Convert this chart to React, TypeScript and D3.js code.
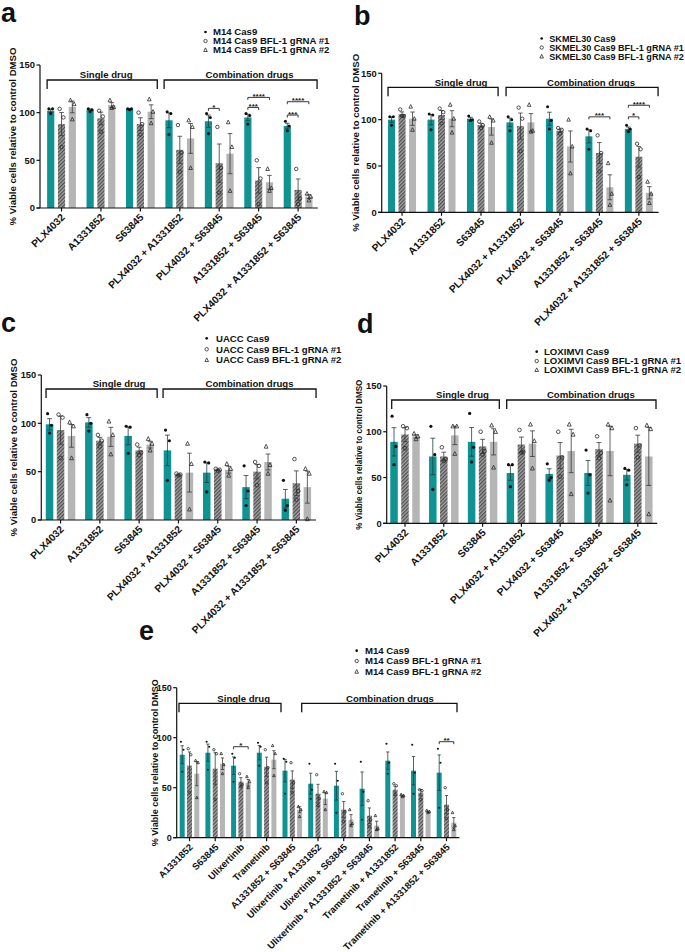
import React from 'react';
import * as d3 from 'd3';

// ---------- categories ----------
const catsABCD = [
  'PLX4032', 'A1331852', 'S63845', 'PLX4032 + A1331852', 'PLX4032 + S63845',
  'A1331852 + S63845', 'PLX4032 + A1331852 + S63845',
];
const catsE = [
  'A1331852', 'S63845', 'Ulixertinib', 'Trametinib', 'A1331852 + S63845',
  'Ulixertinib + A1331852', 'Ulixertinib + S63845', 'Ulixertinib + A1331852 + S63845',
  'Trametinib + A1331852', 'Trametinib + S63845', 'Trametinib + A1331852 + S63845',
];
const yTicks = [0, 50, 100, 150];

// ---------- panel a (M14) ----------
const aCas9 = [102, 103, 104, 92, 91, 95, 86];
const aG1 = [88, 94, 88, 61, 47, 29, 19];
const aG2 = [106, 108, 101, 73, 57, 27, 12];
const aCas9Pts = [[104, 104, 99], [104, 103, 101], [104, 104, 103], [101, 99, 77], [99, 95, 78], [99, 97, 88], [91, 86, 81]];
const aG1Pts = [[104, 95, 64], [102, 96, 80], [100, 88, 77], [87, 58, 38], [85, 42, 16], [50, 31, 4], [41, 10, 4]];
const aG2Pts = [[113, 109, 93], [113, 106, 105], [114, 101, 89], [92, 85, 42], [90, 64, 18], [41, 21, 18], [15, 12, 8]];
const aSig = [
  { g: 4, to: 1, v: 104.5, label: '*' },
  { g: 5, to: 1, v: 105.5, label: '***' },
  { g: 5, to: 2, v: 116, label: '****' },
  { g: 6, to: 1, v: 97.5, label: '***' },
  { g: 6, to: 2, v: 111.5, label: '****' },
];
const aLegend = ['M14 Cas9', 'M14 Cas9 BFL-1 gRNA #1', 'M14 Cas9 BFL-1 gRNA #2'];

// ---------- panel b (SKMEL30) ----------
const bCas9 = [100, 100, 101, 97, 101, 82, 90];
const bG1 = [106, 105, 94, 93, 88, 64, 60];
const bG2 = [101, 101, 92, 97, 71, 27, 21];
const bCas9Pts = [[103, 103, 94], [106, 105, 89], [104, 100, 99], [103, 100, 88], [114, 99, 90], [90, 88, 68], [94, 90, 87]];
const bG1Pts = [[111, 104, 104], [112, 108, 96], [98, 94, 91], [113, 101, 66], [91, 89, 85], [83, 64, 44], [74, 68, 38]];
const bG2Pts = [[114, 101, 89], [116, 101, 86], [103, 99, 75], [116, 88, 87], [100, 71, 42], [53, 20, 8], [33, 20, 10]];
const bSig = [
  { g: 5, to: 2, v: 103, label: '***' },
  { g: 6, to: 1, v: 103, label: '*' },
  { g: 6, to: 2, v: 115.5, label: '****' },
];
const bLegend = ['SKMEL30 Cas9', 'SKMEL30 Cas9 BFL-1 gRNA #1', 'SKMEL30 Cas9 BFL-1 gRNA #2'];

// ---------- panel c (UACC) ----------
const cCas9 = [99, 101, 87, 72, 49, 34, 22];
const cG1 = [93, 82, 72, 47, 52, 50, 38];
const cG2 = [87, 86, 78, 49, 52, 60, 34];
const cCas9Pts = [[110, 98, 90], [109, 100, 92], [97, 96, 69], [93, 82, 41], [60, 59, 29], [56, 30, 15], [41, 15, 10]];
const cG1Pts = [[109, 106, 64], [88, 82, 76], [78, 70, 67], [48, 47, 46], [53, 52, 51], [60, 56, 36], [63, 30, 21]];
const cG2Pts = [[101, 97, 64], [102, 88, 68], [84, 79, 72], [79, 58, 11], [58, 53, 46], [76, 57, 48], [53, 48, 1]];
const cSig: any[] = [];
const cLegend = ['UACC Cas9', 'UACC Cas9 BFL-1 gRNA #1', 'UACC Cas9 BFL-1 gRNA #2'];

// ---------- panel d (LOXIMVI) ----------
const dCas9 = [89, 73, 89, 55, 54, 55, 53];
const dG1 = [97, 73, 84, 86, 74, 81, 87];
const dG2 = [95, 96, 89, 87, 79, 79, 73];
const dCas9Pts = [[117, 84, 64], [106, 75, 37], [120, 83, 67], [64, 64, 40], [65, 50, 47], [80, 53, 33], [60, 58, 42]];
const dG1Pts = [[106, 104, 82], [83, 70, 68], [100, 79, 75], [102, 78, 77], [100, 72, 51], [95, 77, 71], [104, 85, 72]];
const dG2Pts = [[98, 95, 92], [106, 106, 76], [107, 100, 61], [108, 90, 60], [108, 97, 32], [108, 104, 25], [107, 103, 10]];
const dSig: any[] = [];
const dLegend = ['LOXIMVI Cas9', 'LOXIMVI Cas9 BFL-1 gRNA #1', 'LOXIMVI Cas9 BFL-1 gRNA #2'];

// ---------- panel e (M14, MAPK inhibitors) ----------
const eCas9 = [83, 85, 72, 85, 67, 54, 52, 49, 77, 67, 65];
const eG1 = [72, 69, 56, 71, 58, 44, 28, 22, 48, 45, 33];
const eG2 = [64, 74, 55, 78, 28, 39, 18, 12, 42, 26, 15];
const eCas9Pts = [[96, 88, 66], [96, 91, 68], [84, 80, 56], [95, 91, 72], [79, 76, 44], [74, 48, 39], [74, 57, 25], [76, 46, 18], [94, 75, 64], [93, 65, 44], [89, 75, 30]];
const eG1Pts = [[89, 83, 45], [88, 84, 38], [64, 53, 51], [88, 70, 55], [75, 55, 45], [63, 39, 32], [44, 26, 16], [37, 18, 11], [54, 52, 43], [48, 47, 38], [50, 28, 19]];
const eG2Pts = [[77, 75, 40], [84, 73, 64], [61, 56, 50], [92, 84, 62], [31, 28, 21], [46, 45, 28], [28, 14, 12], [22, 9, 8], [43, 42, 41], [27, 26, 25], [25, 12, 8]];
const eSig = [
  { g: 2, to: 2, v: 91, label: '*' },
  { g: 10, to: 2, v: 96, label: '**' },
];
const eLegend = ['M14 Cas9', 'M14 Cas9 BFL-1 gRNA #1', 'M14 Cas9 BFL-1 gRNA #2'];

// ---------- styling ----------
const TEAL = '#0f9393';
const HATCH_FILL = 'url(#hatch)';
const LIGHT = '#b5b5b5';
const FONT = "'Liberation Sans', Arial, sans-serif";

type Bracket = { from: number; dxFrom: number; to: number; dxTo: number; label: string; tdx: number };
type Cfg = {
  letter: string; lx: number; ly: number;
  cats: string[];
  series: number[][];
  pts: number[][][];
  sig: { g: number; to: number; v: number; label: string }[];
  legend: string[];
  axisX: number; xRange: [number, number]; y0: number; y150: number;
  bw: number; off: number;
  legMx: number; legTx: number; legYs: number[]; legSize: number;
  brackets: Bracket[]; bracketDy: number;
  titleX: number; titleSize: number; titleLen?: number;
  xLabelSize: number; tickSize: number;
};

function Marker({ kind, x, y, s = 1 }: { kind: number; x: number; y: number; s?: number }) {
  if (kind === 0) return <circle cx={x} cy={y} r={1.5 * s} fill="#111" />;
  if (kind === 1) return <circle cx={x} cy={y} r={1.7 * s} fill="none" stroke="#2a2a2a" strokeWidth={0.8} />;
  const h = 3.6 * s;
  const p = `M${x},${y - h / 2 - 0.3} L${x + h / 2},${y + h / 2 - 0.3} L${x - h / 2},${y + h / 2 - 0.3} Z`;
  return <path d={p} fill="none" stroke="#2a2a2a" strokeWidth={0.8} />;
}

function Panel({ c }: { c: Cfg }) {
  const x = d3.scaleBand<string>().domain(c.cats).range(c.xRange).padding(0);
  const y = d3.scaleLinear().domain([0, 150]).range([c.y0, c.y150]);
  const cx = (i: number) => (x(c.cats[i]) as number) + x.bandwidth() / 2;
  const fills = [TEAL, HATCH_FILL, LIGHT];
  const offs = [-c.off, 0, c.off];
  const jit = [-1.8, 1.8, 0];
  const brTop = c.y150 + c.bracketDy;
  const xEnd = c.xRange[1];
  const midY = (c.y0 + c.y150) / 2;
  return (
    <g fontFamily={FONT} fontWeight="bold">
      <text x={c.lx} y={c.ly} fontSize={27} fill="#111">{c.letter}</text>
      {/* legend */}
      {c.legend.map((t, k) => (
        <g key={'lg' + k}>
          <Marker kind={k} x={c.legMx} y={c.legYs[k]} s={k === 0 ? 0.9 : 1} />
          <text x={c.legTx} y={c.legYs[k]} dy="0.36em" fontSize={c.legSize} fill="#111">{t}</text>
        </g>
      ))}
      {/* brackets */}
      {c.brackets.map((b, k) => {
        const x1 = cx(b.from) + b.dxFrom;
        const x2 = cx(b.to) + b.dxTo;
        return (
          <g key={'br' + k}>
            <path d={`M${x1},${brTop + 9} V${brTop} H${x2} V${brTop + 9}`} fill="none" stroke="#111" strokeWidth={1.3} />
            <text x={(x1 + x2) / 2 + b.tdx} y={brTop - 1.6} textAnchor="middle" fontSize={9.6} fill="#111">{b.label}</text>
          </g>
        );
      })}
      {/* bars */}
      {c.series.map((vals, s) => vals.map((v, i) => {
        const bx = cx(i) + offs[s] - c.bw / 2;
        return <rect key={`b${s}-${i}`} x={bx} y={y(v)} width={c.bw} height={c.y0 - y(v)} fill={fills[s]} />;
      }))}
      {/* error bars (mean ± SEM of the plotted points) */}
      {c.series.map((vals, s) => vals.map((v, i) => {
        const p = c.pts[s][i];
        const sem = (d3.deviation(p) as number) / Math.sqrt(p.length);
        const ex = cx(i) + offs[s];
        const cw = c.bw * 0.32;
        const col = s === 0 ? '#1f3f3f' : '#3a3a3a';
        return (
          <path key={`e${s}-${i}`} d={`M${ex},${y(v + sem)} V${y(Math.max(0, v - sem))} M${ex - cw},${y(v + sem)} H${ex + cw} M${ex - cw},${y(Math.max(0, v - sem))} H${ex + cw}`}
            stroke={col} strokeWidth={0.8} fill="none" />
        );
      }))}
      {/* points */}
      {c.pts.map((grp, s) => grp.map((p, i) => p.map((v, j) => (
        <Marker key={`p${s}-${i}-${j}`} kind={s} x={cx(i) + offs[s] + jit[j] * (c.bw / 7)} y={y(v)} s={c.bw / 7} />
      ))))}
      {/* significance */}
      {c.sig.map((sg, k) => {
        const x1 = cx(sg.g) - c.off;
        const x2 = cx(sg.g) + offs[sg.to];
        const yy = y(sg.v);
        return (
          <g key={'sg' + k}>
            <path d={`M${x1},${yy + 2.5} V${yy} H${x2} V${yy + 2.5}`} fill="none" stroke="#222" strokeWidth={0.9} />
            <text x={(x1 + x2) / 2} y={yy + 1.5} textAnchor="middle" fontSize={8} fill="#222">{sg.label}</text>
          </g>
        );
      })}
      {/* axes */}
      <line x1={c.axisX} x2={c.axisX} y1={c.y0} y2={c.y150} stroke="#111" strokeWidth={1.2} />
      <line x1={c.axisX - 3.5} x2={xEnd} y1={c.y0} y2={c.y0} stroke="#111" strokeWidth={1.2} />
      {yTicks.map((t) => (
        <g key={'yt' + t}>
          <line x1={c.axisX - 3.5} x2={c.axisX} y1={y(t)} y2={y(t)} stroke="#111" strokeWidth={1.2} />
          <text x={c.axisX - 5} y={y(t)} dy="0.36em" textAnchor="end" fontSize={c.tickSize} fill="#111">{t}</text>
        </g>
      ))}
      {c.cats.map((cat, i) => (
        <g key={'xt' + i}>
          <line x1={cx(i)} x2={cx(i)} y1={c.y0} y2={c.y0 + 3.5} stroke="#111" strokeWidth={1.2} />
          <text transform={`translate(${cx(i) + 4},${c.y0 + 10}) rotate(-45)`} textAnchor="end" fontSize={c.xLabelSize} fill="#111">{cat}</text>
        </g>
      ))}
      <text transform={`translate(${c.titleX},${midY}) rotate(-90)`} textAnchor="middle" fontSize={c.titleSize} fill="#111"
        {...(c.titleLen ? { textLength: c.titleLen, lengthAdjust: 'spacingAndGlyphs' } : {})}>
        % Viable cells relative to control DMSO
      </text>
    </g>
  );
}

const panels: Cfg[] = [
  {
    letter: 'a', lx: 1, ly: 21.5, cats: catsABCD,
    series: [aCas9, aG1, aG2], pts: [aCas9Pts, aG1Pts, aG2Pts], sig: aSig, legend: aLegend,
    axisX: 40, xRange: [41.8, 317.8], y0: 208, y150: 65, bw: 7.2, off: 10.8,
    legMx: 205.5, legTx: 213, legYs: [32, 41, 50], legSize: 9.6,
    brackets: [
      { from: 0, dxFrom: -14.4, to: 2, dxTo: 16.9, label: 'Single drug', tdx: 4 },
      { from: 3, dxFrom: -15.7, to: 6, dxTo: 19, label: 'Combination drugs', tdx: 9 },
    ], bracketDy: 15,
    titleX: 16, titleSize: 9.6, xLabelSize: 10.2, tickSize: 9.4,
  },
  {
    letter: 'b', lx: 354, ly: 25, cats: catsABCD,
    series: [bCas9, bG1, bG2], pts: [bCas9Pts, bG1Pts, bG2Pts], sig: bSig, legend: bLegend,
    axisX: 381.7, xRange: [382.3, 658.6], y0: 212.3, y150: 73.3, bw: 7, off: 10.5,
    legMx: 541.7, legTx: 549.3, legYs: [38.5, 47.5, 56.5], legSize: 9.1,
    brackets: [
      { from: 0, dxFrom: -14, to: 2, dxTo: 17.1, label: 'Single drug', tdx: 18 },
      { from: 3, dxFrom: -14.4, to: 6, dxTo: 19.2, label: 'Combination drugs', tdx: 9 },
    ], bracketDy: 14,
    titleX: 359, titleSize: 9.6, xLabelSize: 10.2, tickSize: 9.4,
  },
  {
    letter: 'c', lx: 1, ly: 332, cats: catsABCD,
    series: [cCas9, cG1, cG2], pts: [cCas9Pts, cG1Pts, cG2Pts], sig: cSig, legend: cLegend,
    axisX: 41.3, xRange: [40.9, 316], y0: 520, y150: 375, bw: 7.5, off: 11,
    legMx: 206.7, legTx: 216, legYs: [338.3, 349.3, 360], legSize: 9.6,
    brackets: [
      { from: 0, dxFrom: -14.5, to: 2, dxTo: 18, label: 'Single drug', tdx: 17.5 },
      { from: 3, dxFrom: -15.4, to: 6, dxTo: 19.7, label: 'Combination drugs', tdx: 10 },
    ], bracketDy: 14,
    titleX: 16.5, titleSize: 9.6, xLabelSize: 10.2, tickSize: 9.4,
  },
  {
    letter: 'd', lx: 357, ly: 333, cats: catsABCD,
    series: [dCas9, dG1, dG2], pts: [dCas9Pts, dG1Pts, dG2Pts], sig: dSig, legend: dLegend,
    axisX: 386.7, xRange: [385.6, 657.2], y0: 523.3, y150: 386, bw: 7.5, off: 11,
    legMx: 536.7, legTx: 544, legYs: [351.7, 361, 370], legSize: 9.6,
    brackets: [
      { from: 0, dxFrom: -13.3, to: 2, dxTo: 16.7, label: 'Single drug', tdx: 17 },
      { from: 3, dxFrom: -14.7, to: 6, dxTo: 18.2, label: 'Combination drugs', tdx: 9.5 },
    ], bracketDy: 14,
    titleX: 362, titleSize: 9, titleLen: 150, xLabelSize: 10.2, tickSize: 9.4,
  },
  {
    letter: 'e', lx: 139, ly: 640, cats: catsE,
    series: [eCas9, eG1, eG2], pts: [eCas9Pts, eG1Pts, eG2Pts], sig: eSig, legend: eLegend,
    axisX: 176.7, xRange: [176.65, 459.35], y0: 837.7, y150: 687.7, bw: 5, off: 7.3,
    legMx: 356.7, legTx: 365, legYs: [650.7, 661, 671.7], legSize: 9.6,
    brackets: [
      { from: 0, dxFrom: -10.5, to: 3, dxTo: 14.4, label: 'Single drug', tdx: 13.7 },
      { from: 4, dxFrom: 9.4, to: 10, dxTo: 10.5, label: 'Combination drugs', tdx: 10.6 },
    ], bracketDy: 15.6,
    titleX: 158, titleSize: 9, xLabelSize: 9.5, tickSize: 9,
  },
];

export default function App() {
  return (
    <svg width={685} height={952} viewBox="0 0 685 952"
      style={{ position: 'absolute', left: 0, top: 0, background: '#fff', display: 'block' }}>
      <defs>
        <pattern id="hatch" patternUnits="userSpaceOnUse" width={2.6} height={2.6} patternTransform="rotate(45)">
          <rect width={2.6} height={2.6} fill="#a2a2a2" />
          <line x1={0.6} y1={0} x2={0.6} y2={2.6} stroke="#4e4e4e" strokeWidth={1.2} />
        </pattern>
      </defs>
      <rect width={685} height={952} fill="#fff" />
      {panels.map((c) => <Panel key={c.letter} c={c} />)}
    </svg>
  );
}
